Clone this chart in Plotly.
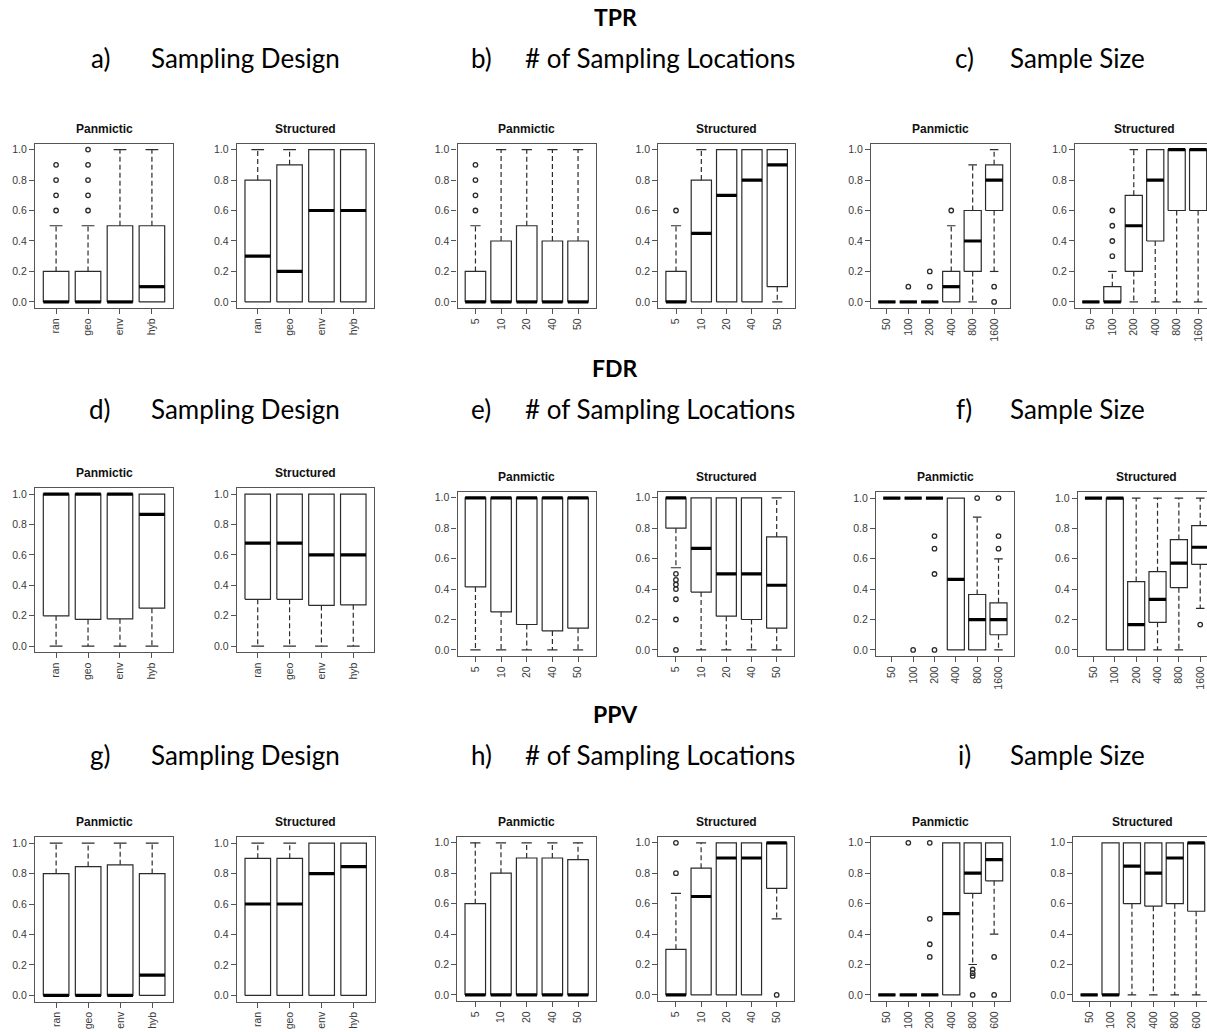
import plotly.graph_objects as go

W, H = 1207, 1032

# ---------------- categories ----------------
DESIGN = ["ran", "geo", "env", "hyb"]
LOCS = ["5", "10", "20", "40", "50"]
SIZES = ["50", "100", "200", "400", "800", "1600"]
SIZES_PPV = ["50", "100", "200", "400", "800", "600"]

# ---------------- data: box statistics per panel ----------------
# q1, median, q3, lower whisker end (lo), upper whisker end (hi), outliers
tpr_design_pan = dict(q1=[0, 0, 0, 0], med=[0, 0, 0, 0.1], q3=[0.2, 0.2, 0.5, 0.5],
                      lo=[0, 0, 0, 0], hi=[0.5, 0.5, 1.0, 1.0],
                      out=[[0.6, 0.7, 0.8, 0.9], [0.6, 0.7, 0.8, 0.9, 1.0], [], []])
tpr_design_str = dict(q1=[0, 0, 0, 0], med=[0.3, 0.2, 0.6, 0.6], q3=[0.8, 0.9, 1.0, 1.0],
                      lo=[0, 0, 0, 0], hi=[1.0, 1.0, 1.0, 1.0],
                      out=[[], [], [], []])
tpr_locs_pan = dict(q1=[0, 0, 0, 0, 0], med=[0, 0, 0, 0, 0], q3=[0.2, 0.4, 0.5, 0.4, 0.4],
                    lo=[0, 0, 0, 0, 0], hi=[0.5, 1.0, 1.0, 1.0, 1.0],
                    out=[[0.6, 0.7, 0.8, 0.9], [], [], [], []])
tpr_locs_str = dict(q1=[0, 0, 0, 0, 0.1], med=[0, 0.45, 0.7, 0.8, 0.9], q3=[0.2, 0.8, 1.0, 1.0, 1.0],
                    lo=[0, 0, 0, 0, 0], hi=[0.5, 1.0, 1.0, 1.0, 1.0],
                    out=[[0.6], [], [], [], []])
tpr_size_pan = dict(q1=[0, 0, 0, 0, 0.2, 0.6], med=[0, 0, 0, 0.1, 0.4, 0.8], q3=[0, 0, 0, 0.2, 0.6, 0.9],
                    lo=[0, 0, 0, 0, 0, 0.2], hi=[0, 0, 0, 0.5, 0.9, 1.0],
                    out=[[], [0.1], [0.1, 0.2], [0.6], [], [0.1, 0.0]])
tpr_size_str = dict(q1=[0, 0, 0.2, 0.4, 0.6, 0.6], med=[0, 0, 0.5, 0.8, 1.0, 1.0], q3=[0, 0.1, 0.7, 1.0, 1.0, 1.0],
                    lo=[0, 0, 0, 0, 0, 0], hi=[0, 0.2, 1.0, 1.0, 1.0, 1.0],
                    out=[[], [0.3, 0.4, 0.5, 0.6], [], [], [], []])

fdr_design_pan = dict(q1=[0.2, 0.176, 0.18, 0.25], med=[1.0, 1.0, 1.0, 0.866], q3=[1, 1, 1, 1],
                      lo=[0, 0, 0, 0], hi=[1, 1, 1, 1],
                      out=[[], [], [], []])
fdr_design_str = dict(q1=[0.308, 0.308, 0.268, 0.272], med=[0.677, 0.677, 0.6, 0.6], q3=[1, 1, 1, 1],
                      lo=[0, 0, 0, 0], hi=[1, 1, 1, 1],
                      out=[[], [], [], []])
fdr_locs_pan = dict(q1=[0.414, 0.25, 0.167, 0.125, 0.143], med=[1, 1, 1, 1, 1], q3=[1, 1, 1, 1, 1],
                    lo=[0, 0, 0, 0, 0], hi=[1, 1, 1, 1, 1],
                    out=[[], [], [], [], []])
fdr_locs_str = dict(q1=[0.8, 0.38, 0.222, 0.2, 0.143], med=[1.0, 0.667, 0.5, 0.5, 0.425], q3=[1, 1, 1, 1, 0.743],
                    lo=[0.54, 0, 0, 0, 0], hi=[1, 1, 1, 1, 1],
                    out=[[0.5, 0.46, 0.43, 0.4, 0.333, 0.2, 0.0], [], [], [], []])
fdr_size_pan = dict(q1=[1, 1, 1, 0, 0, 0.1], med=[1, 1, 1, 0.465, 0.2, 0.2], q3=[1, 1, 1, 1, 0.365, 0.31],
                    lo=[1, 1, 1, 0, 0, 0], hi=[1, 1, 1, 1, 0.875, 0.6],
                    out=[[], [0.0], [0.75, 0.667, 0.5, 0.0], [], [1.0], [0.667, 0.75, 1.0]])
fdr_size_str = dict(q1=[1, 0, 0, 0.182, 0.41, 0.563], med=[1, 1, 0.167, 0.333, 0.571, 0.676],
                    q3=[1, 1, 0.45, 0.515, 0.727, 0.818],
                    lo=[1, 0, 0, 0, 0, 0.273], hi=[1, 1, 1, 1, 1, 1],
                    out=[[], [], [], [], [], [0.167]])

ppv_design_pan = dict(q1=[0, 0, 0, 0], med=[0, 0, 0, 0.133], q3=[0.8, 0.846, 0.857, 0.8],
                      lo=[0, 0, 0, 0], hi=[1, 1, 1, 1],
                      out=[[], [], [], []])
ppv_design_str = dict(q1=[0, 0, 0, 0], med=[0.6, 0.6, 0.8, 0.846], q3=[0.9, 0.9, 1.0, 1.0],
                      lo=[0, 0, 0, 0], hi=[1, 1, 1, 1],
                      out=[[], [], [], []])
ppv_locs_pan = dict(q1=[0, 0, 0, 0, 0], med=[0, 0, 0, 0, 0], q3=[0.6, 0.8, 0.9, 0.9, 0.889],
                    lo=[0, 0, 0, 0, 0], hi=[1, 1, 1, 1, 1],
                    out=[[], [], [], [], []])
ppv_locs_str = dict(q1=[0, 0, 0, 0, 0.7], med=[0, 0.647, 0.9, 0.9, 1.0], q3=[0.3, 0.833, 1, 1, 1],
                    lo=[0, 0, 0, 0, 0.5], hi=[0.667, 1, 1, 1, 1],
                    out=[[0.8, 1.0], [], [], [], [0.0]])
ppv_size_pan = dict(q1=[0, 0, 0, 0, 0.667, 0.75], med=[0, 0, 0, 0.535, 0.8, 0.889], q3=[0, 0, 0, 1, 1, 1],
                    lo=[0, 0, 0, 0, 0.2, 0.4], hi=[0, 0, 0, 1, 1, 1],
                    out=[[], [1.0], [1.0, 0.5, 0.333, 0.25], [], [0.167, 0.143, 0.125, 0.0], [0.25, 0.0]])
ppv_size_str = dict(q1=[0, 0, 0.6, 0.583, 0.6, 0.55], med=[0, 0, 0.846, 0.8, 0.9, 1.0], q3=[0, 1, 1, 1, 1, 1],
                    lo=[0, 0, 0, 0, 0, 0], hi=[0, 1, 1, 1, 1, 1],
                    out=[[], [], [], [], [], []])

Y_TICKS = [0.0, 0.2, 0.4, 0.6, 0.8, 1.0]

# ---------------- layout geometry (pixels) ----------------
# (data, categories, title, frame_left, frame_right, frame_top, frame_bottom)
PANELS = [
    (tpr_design_pan, DESIGN, "Panmictic", 35, 173, 143.5, 308),
    (tpr_design_str, DESIGN, "Structured", 236.7, 374.3, 143.5, 308),
    (tpr_locs_pan, LOCS, "Panmictic", 457.5, 596, 143.5, 308),
    (tpr_locs_str, LOCS, "Structured", 658.3, 795, 143.5, 308),
    (tpr_size_pan, SIZES, "Panmictic", 871, 1010, 143.5, 308),
    (tpr_size_str, SIZES, "Structured", 1075, 1214, 143.5, 308),
    (fdr_design_pan, DESIGN, "Panmictic", 35, 173, 488, 652.3),
    (fdr_design_str, DESIGN, "Structured", 236.7, 374.3, 488, 652.3),
    (fdr_locs_pan, LOCS, "Panmictic", 457.5, 596, 491.7, 656),
    (fdr_locs_str, LOCS, "Structured", 658.3, 794.3, 491.7, 656),
    (fdr_size_pan, SIZES, "Panmictic", 876, 1014.3, 492, 656),
    (fdr_size_str, SIZES, "Structured", 1077.7, 1216, 492, 656),
    (ppv_design_pan, DESIGN, "Panmictic", 35, 173.3, 837, 1001.5),
    (ppv_design_str, DESIGN, "Structured", 236.7, 374.7, 837, 1001.5),
    (ppv_locs_pan, LOCS, "Panmictic", 457.3, 596, 836.7, 1001),
    (ppv_locs_str, LOCS, "Structured", 658.3, 794.3, 836.7, 1001),
    (ppv_size_pan, SIZES_PPV, "Panmictic", 871, 1010, 836.7, 1001),
    (ppv_size_str, SIZES_PPV, "Structured", 1073.3, 1212, 836.7, 1001),
]

HEADERS = [("TPR", 17, ["a)", "b)", "c)"]),
           ("FDR", 368, ["d)", "e)", "f)"]),
           ("PPV", 714, ["g)", "h)", "i)"])]
SUBTITLES = ["Sampling Design", "# of Sampling Locations", "Sample Size"]
LETTER_X = [100, 481, 964]
SUB_X = [245, 660, 1077]

LINE_C = "#2b2b2b"
AX_C = "#555555"
TXT_C = "#3a3a3a"

fig = go.Figure()
layout = dict(width=W, height=H, margin=dict(l=0, r=0, t=0, b=0),
              paper_bgcolor="white", plot_bgcolor="white", showlegend=False)
annotations = []

BW = 0.4   # half box width
SW = 0.2   # half staple width

for k, (d, cats, title, fl, fr, ft, fb) in enumerate(PANELS, start=1):
    n = len(cats)
    xs_name = "x" if k == 1 else f"x{k}"
    ys_name = "y" if k == 1 else f"y{k}"
    pos = list(range(1, n + 1))
    r0 = 0.5 - 0.04 * n
    r1 = n + 0.5 + 0.04 * n
    ppu = (fr - fl) / (r1 - r0)
    cut = fr > W
    if cut:
        r1_eff = r0 + (W - fl) / ppu
        dom_r = 1.0
    else:
        r1_eff = r1
        dom_r = fr / W

    # whiskers and staples
    wx, wy = [], []
    sx, sy = [], []
    for p, q1, q3, lo, hi in zip(pos, d["q1"], d["q3"], d["lo"], d["hi"]):
        if hi > q3:
            wx += [p, p, None]; wy += [q3, hi, None]
            sx += [p - SW, p + SW, None]; sy += [hi, hi, None]
        if lo < q1:
            wx += [p, p, None]; wy += [q1, lo, None]
            sx += [p - SW, p + SW, None]; sy += [lo, lo, None]
    fig.add_trace(go.Scatter(x=wx, y=wy, mode="lines", xaxis=xs_name, yaxis=ys_name,
                             line=dict(color=LINE_C, width=1.2, dash="5px,3px"), hoverinfo="skip"))
    fig.add_trace(go.Scatter(x=sx, y=sy, mode="lines", xaxis=xs_name, yaxis=ys_name,
                             line=dict(color=LINE_C, width=1.2), hoverinfo="skip"))
    # boxes
    bx, by = [], []
    for p, q1, q3 in zip(pos, d["q1"], d["q3"]):
        bx += [p - BW, p + BW, p + BW, p - BW, p - BW, None]
        by += [q1, q1, q3, q3, q1, None]
    fig.add_trace(go.Scatter(x=bx, y=by, mode="lines", xaxis=xs_name, yaxis=ys_name,
                             line=dict(color=LINE_C, width=1.2), hoverinfo="skip"))
    # medians
    mx, my = [], []
    for p, m in zip(pos, d["med"]):
        mx += [p - BW, p + BW, None]; my += [m, m, None]
    fig.add_trace(go.Scatter(x=mx, y=my, mode="lines", xaxis=xs_name, yaxis=ys_name,
                             line=dict(color="#000000", width=3.2), hoverinfo="skip"))
    # outliers
    ox, oy = [], []
    for p, outs in zip(pos, d["out"]):
        for v in outs:
            ox.append(p); oy.append(v)
    if ox:
        fig.add_trace(go.Scatter(x=ox, y=oy, mode="markers", xaxis=xs_name, yaxis=ys_name,
                                 marker=dict(symbol="circle-open", size=4.5, color=LINE_C,
                                             line=dict(width=1.3, color=LINE_C)),
                                 hoverinfo="skip"))

    xkey = "xaxis" if k == 1 else f"xaxis{k}"
    ykey = "yaxis" if k == 1 else f"yaxis{k}"
    layout[xkey] = dict(domain=[fl / W, dom_r], range=[r0, r1_eff], anchor=ys_name,
                        tickmode="array", tickvals=pos, ticktext=cats, tickangle=-90,
                        showline=True, mirror=True, linecolor=AX_C, linewidth=1.2,
                        ticks="outside", ticklen=5, tickcolor=AX_C, tickwidth=1,
                        showgrid=False, zeroline=False, fixedrange=True,
                        tickfont=dict(family="Liberation Sans, Arial", size=10.5, color=TXT_C))
    layout[ykey] = dict(domain=[1 - fb / H, 1 - ft / H], range=[-0.04, 1.04], anchor=xs_name,
                        tickmode="array", tickvals=Y_TICKS, ticktext=[f"{v:.1f}" for v in Y_TICKS],
                        showline=True, mirror=(not cut), linecolor=AX_C, linewidth=1.2,
                        ticks="outside", ticklen=5, tickcolor=AX_C, tickwidth=1,
                        showgrid=False, zeroline=False, fixedrange=True,
                        tickfont=dict(family="Liberation Sans, Arial", size=10.5, color=TXT_C))
    annotations.append(dict(text=f"<b>{title}</b>", xref="paper", yref="paper",
                            x=((fl + fr) / 2) / W, y=1 - (ft - 15) / H,
                            xanchor="center", yanchor="middle", showarrow=False,
                            font=dict(family="Liberation Sans, Arial", size=12, color="#111")))

for name, hy, letters in HEADERS:
    annotations.append(dict(text=f"<b>{name}</b>", xref="paper", yref="paper",
                            x=615 / W, y=1 - hy / H, xanchor="center", yanchor="middle",
                            showarrow=False, font=dict(family="Lato, Open Sans", size=23, color="#000")))
    for lx, sxp, letter, sub in zip(LETTER_X, SUB_X, letters, SUBTITLES):
        annotations.append(dict(text=letter, xref="paper", yref="paper",
                                x=lx / W, y=1 - (hy + 41) / H, xanchor="center", yanchor="middle",
                                showarrow=False, font=dict(family="Lato, Open Sans", size=26, color="#000")))
        annotations.append(dict(text=sub, xref="paper", yref="paper",
                                x=sxp / W, y=1 - (hy + 41) / H, xanchor="center", yanchor="middle",
                                showarrow=False, font=dict(family="Lato, Open Sans", size=26, color="#000")))

layout["annotations"] = annotations
fig.update_layout(**layout)
fig.write_html("out.html")
